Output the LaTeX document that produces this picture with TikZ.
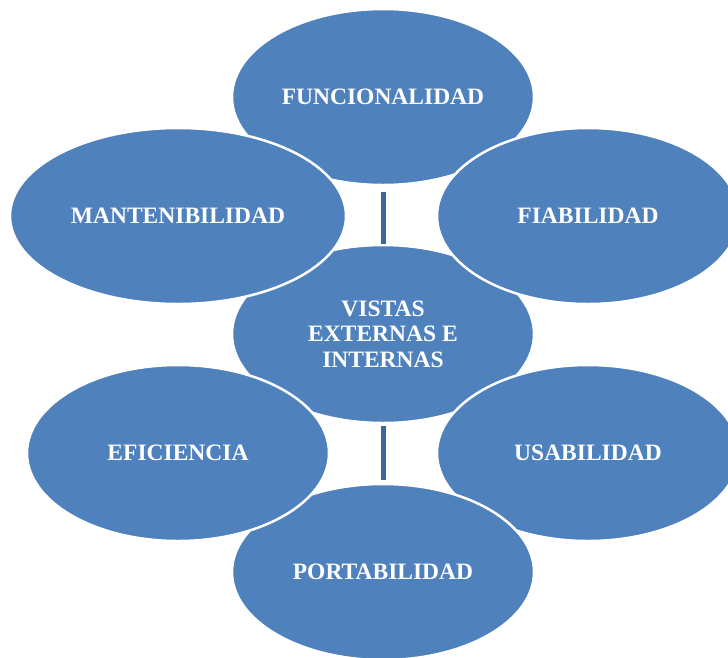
\documentclass[tikz,border=0pt]{standalone}
\usepackage{xcolor}
\usepackage{fontspec}
\setmainfont{Liberation Serif}
\definecolor{cycle-main}{HTML}{4F81BD}
\definecolor{cycle-link}{HTML}{3D6699}
\usepackage{tikz}
\usetikzlibrary{shapes.geometric}

\tikzset{
    petal/.style={ellipse, fill=cycle-main, draw=white, line width=2.5pt,
        inner sep=0pt, minimum width=302pt, minimum height=176pt,
        text=white, align=center,
        font=\fontsize{23.5}{25.5}\selectfont\bfseries},
    link/.style={draw=cycle-link, line width=5pt}
}

\begin{document}
\begin{tikzpicture}[x=1pt, y=-1pt]

    % Frame
    \useasboundingbox (0, 0) rectangle (728, 657);

    % Hub
    \node[petal, minimum height=178pt] (vistas) at (383, 334) {VISTAS\\EXTERNAS E\\INTERNAS};

    % Ring
    \node[petal] (funcionalidad) at (383, 97) {FUNCIONALIDAD};
    \node[petal] (fiabilidad) at (588, 216) {FIABILIDAD};
    \node[petal] (usabilidad) at (588, 453) {USABILIDAD};
    \node[petal] (portabilidad) at (383, 572) {PORTABILIDAD};
    \node[petal] (eficiencia) at (178, 453) {EFICIENCIA};
    \node[petal, minimum width=336pt] (mantenibilidad) at (178, 216) {MANTENIBILIDAD};

    % Links
    \draw[link, shorten <=0pt, shorten >=6pt] (vistas) -- (funcionalidad);
    \draw[link, shorten <=2pt, shorten >=3pt] (vistas) -- (portabilidad);

\end{tikzpicture}
\end{document}
